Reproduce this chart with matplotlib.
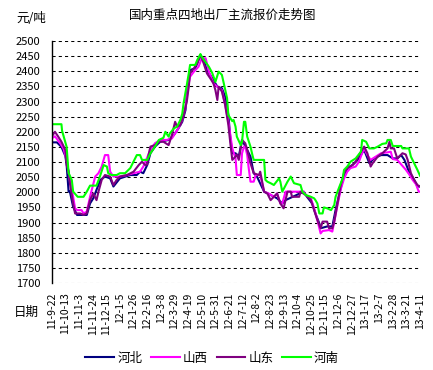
import matplotlib
matplotlib.use("Agg")
import matplotlib.pyplot as plt

plt.rcParams['font.family'] = ['Noto Sans CJK SC', 'DejaVu Sans']

# x values are days counted from 2011-09-22
tick_labels = ["11-9-22", "11-10-13", "11-11-3", "11-11-24", "11-12-15", "12-1-5",
               "12-1-26", "12-2-16", "12-3-8", "12-3-29", "12-4-19", "12-5-10",
               "12-5-31", "12-6-21", "12-7-12", "12-8-2", "12-8-23", "12-9-13",
               "12-10-4", "12-10-25", "12-11-15", "12-12-6", "12-12-27", "13-1-17",
               "13-2-7", "13-2-28", "13-3-21", "13-4-11"]

hebei_days = [0, 8, 15, 21, 23, 26, 28, 33, 39, 54, 59, 64, 69, 75, 82, 90, 95, 105, 121,
              131, 136, 141, 147, 152, 159, 167, 180, 188, 195, 201, 206, 208, 211, 213,
              221, 224, 229, 234, 239, 244, 249, 255, 262, 267, 272, 275, 278, 283, 288,
              293, 301, 306, 311, 316, 327, 337, 347, 355, 360, 388, 393, 401, 406, 412,
              414, 424, 432, 437, 443, 448, 455, 463, 471, 481, 489, 496, 507, 517, 525,
              532, 538, 543, 550, 558, 563, 567]
hebei = [2165, 2165, 2150, 2120, 2090, 2002, 2002, 1952, 1925, 1925, 1963, 1980, 2008,
         2041, 2052, 2046, 2019, 2046, 2057, 2057, 2068, 2063, 2090, 2129, 2151, 2167,
         2173, 2189, 2211, 2233, 2272, 2322, 2371, 2404, 2410, 2426, 2454, 2437, 2404,
         2388, 2371, 2349, 2344, 2316, 2255, 2180, 2129, 2129, 2118, 2173, 2140, 2118,
         2063, 2052, 2002, 1991, 1980, 1963, 1974, 2002, 1985, 1963, 1930, 1897, 1881,
         1887, 1887, 1941, 1996, 2041, 2080, 2090, 2107, 2140, 2096, 2112, 2123, 2123,
         2112, 2112, 2123, 2107, 2068, 2041, 2019, 2019]

shanxi_days = [0, 5, 13, 18, 23, 28, 33, 36, 39, 46, 49, 54, 59, 67, 72, 77, 82, 87, 90,
               95, 105, 116, 126, 136, 141, 152, 159, 167, 177, 185, 190, 195, 201, 206,
               211, 213, 219, 226, 231, 237, 242, 249, 255, 262, 267, 272, 278, 283, 285,
               291, 293, 296, 298, 301, 303, 306, 311, 314, 321, 327, 334, 342, 347, 352,
               355, 360, 388, 391, 399, 404, 409, 414, 417, 427, 432, 435, 440, 445, 450,
               455, 460, 468, 473, 478, 481, 486, 491, 499, 507, 517, 522, 525, 532, 538,
               545, 550, 556, 561, 565, 567]
shanxi = [2178, 2185, 2162, 2145, 2107, 2041, 1985, 1947, 1941, 1941, 1930, 1936, 1985,
          2052, 2063, 2085, 2123, 2123, 2068, 2052, 2052, 2057, 2063, 2068, 2085, 2140,
          2162, 2173, 2173, 2178, 2195, 2211, 2239, 2283, 2360, 2382, 2399, 2415, 2443,
          2443, 2399, 2360, 2349, 2338, 2289, 2233, 2145, 2112, 2057, 2057, 2129, 2151,
          2151, 2123, 2085, 2035, 2035, 2057, 2057, 2002, 1996, 1985, 1996, 1963, 1963,
          2002, 2002, 1991, 1980, 1947, 1908, 1864, 1872, 1875, 1870, 1903, 1958, 2010,
          2045, 2068, 2080, 2085, 2101, 2130, 2145, 2123, 2107, 2118, 2129, 2132, 2134,
          2110, 2107, 2092, 2075, 2060, 2040, 2026, 2002, 2002]

shandong_days = [0, 5, 10, 15, 21, 23, 26, 28, 33, 36, 44, 49, 54, 59, 64, 69, 72, 77, 82,
                 90, 95, 100, 105, 116, 126, 134, 139, 144, 147, 149, 152, 159, 165, 172,
                 180, 185, 190, 193, 198, 203, 208, 211, 213, 219, 224, 229, 234, 239, 244,
                 249, 252, 255, 257, 262, 267, 272, 275, 278, 283, 285, 288, 293, 298, 301,
                 306, 311, 319, 321, 327, 332, 337, 342, 347, 352, 357, 360, 363, 368, 370,
                 381, 383, 391, 399, 404, 409, 414, 417, 424, 427, 432, 435, 440, 445, 450,
                 455, 463, 468, 473, 481, 486, 491, 494, 502, 509, 517, 520, 522, 527, 532,
                 540, 545, 548, 553, 558, 563, 567]
shandong = [2184, 2200, 2184, 2167, 2140, 2090, 2070, 2030, 1963, 1930, 1930, 1925, 1930,
            1974, 1996, 1974, 2002, 2041, 2057, 2052, 2024, 2041, 2052, 2057, 2068, 2090,
            2101, 2090, 2092, 2123, 2151, 2156, 2167, 2167, 2156, 2189, 2233, 2217, 2222,
            2255, 2300, 2349, 2393, 2410, 2426, 2454, 2426, 2393, 2377, 2360, 2338, 2305,
            2349, 2333, 2289, 2222, 2162, 2107, 2118, 2125, 2107, 2173, 2162, 2140, 2096,
            2063, 2057, 2068, 2002, 1996, 1974, 1985, 1996, 1963, 1947, 1974, 2002, 2002,
            1985, 1985, 2002, 1991, 1974, 1941, 1908, 1881, 1903, 1903, 1881, 1881, 1903,
            1963, 2024, 2063, 2080, 2090, 2101, 2123, 2151, 2129, 2085, 2096, 2118, 2129,
            2145, 2167, 2145, 2145, 2112, 2129, 2125, 2107, 2063, 2041, 2024, 2019]

henan_days = [0, 15, 16, 23, 26, 31, 33, 40, 49, 54, 59, 69, 75, 80, 85, 87, 92, 100, 105,
              113, 121, 131, 136, 139, 147, 152, 159, 165, 172, 175, 180, 182, 188, 193,
              198, 201, 203, 208, 211, 213, 221, 224, 229, 231, 237, 242, 247, 252, 257,
              262, 267, 270, 272, 278, 280, 283, 285, 291, 293, 296, 298, 301, 306, 309,
              311, 327, 329, 332, 337, 342, 350, 352, 355, 363, 368, 373, 383, 386, 391,
              399, 404, 406, 409, 412, 417, 419, 424, 430, 435, 437, 443, 448, 450, 455,
              460, 468, 476, 478, 484, 489, 496, 502, 509, 515, 517, 522, 525, 538, 540,
              550, 553, 558, 563, 567]
henan = [2225, 2225, 2203, 2150, 2064, 2040, 2002, 1985, 1985, 2002, 2022, 2022, 2057,
         2090, 2085, 2063, 2057, 2057, 2063, 2063, 2080, 2123, 2123, 2107, 2107, 2129,
         2151, 2173, 2180, 2200, 2184, 2195, 2211, 2217, 2239, 2260, 2294, 2355, 2393,
         2421, 2421, 2437, 2457, 2448, 2430, 2415, 2395, 2365, 2399, 2388, 2340, 2311,
         2255, 2235, 2239, 2217, 2184, 2156, 2167, 2233, 2233, 2184, 2151, 2123, 2107,
         2107, 2041, 2035, 2030, 2024, 2046, 2035, 2002, 2035, 2052, 2030, 2024, 2002,
         1991, 1985, 1980, 1974, 1963, 1930, 1930, 1950, 1947, 1941, 1958, 1985, 2019,
         2046, 2074, 2085, 2101, 2112, 2134, 2173, 2167, 2145, 2145, 2151, 2160, 2162,
         2173, 2173, 2153, 2153, 2145, 2145, 2118, 2096, 2074, 2055]

fig = plt.figure(figsize=(4.33, 3.70), dpi=100)
ax = fig.add_axes([0.1194, 0.2351, 0.8506, 0.654])

ax.plot(hebei_days, hebei, color='#000080', lw=1.5, label='河北')
ax.plot(shanxi_days, shanxi, color='#FF00FF', lw=1.5, label='山西')
ax.plot(shandong_days, shandong, color='#800080', lw=1.5, label='山东')
ax.plot(henan_days, henan, color='#00FF00', lw=1.5, label='河南')

ax.set_xlim(0, 567)
ax.set_ylim(1700, 2500)
ax.set_yticks(range(1700, 2501, 50))
ax.set_xticks(range(0, 568, 21))
ax.set_xticklabels(tick_labels, rotation=90, fontsize=7.5)
ax.tick_params(axis='x', length=0, pad=7)
ax.tick_params(axis='y', length=0, pad=8, labelsize=8)

ax.grid(axis='y', color='black', linestyle=(0, (3, 3)), linewidth=0.75)
ax.set_axisbelow(True)
for s in ['top', 'right', 'bottom']:
    ax.spines[s].set_visible(False)
ax.spines['left'].set_linewidth(1.0)

fig.text(0.515, 0.959, '国内重点四地出厂主流报价走势图', ha='center', va='center', fontsize=9)
fig.text(0.037, 0.951, '元/吨', ha='left', va='center', fontsize=9)
fig.text(0.032, 0.157, '日期', ha='left', va='center', fontsize=9)

fig.legend(loc='center', bbox_to_anchor=(0.49, 0.032), ncol=4, frameon=False,
           fontsize=9, handlelength=2.3, handletextpad=0.25, columnspacing=0.7)

fig.savefig('out.png', dpi=100)
